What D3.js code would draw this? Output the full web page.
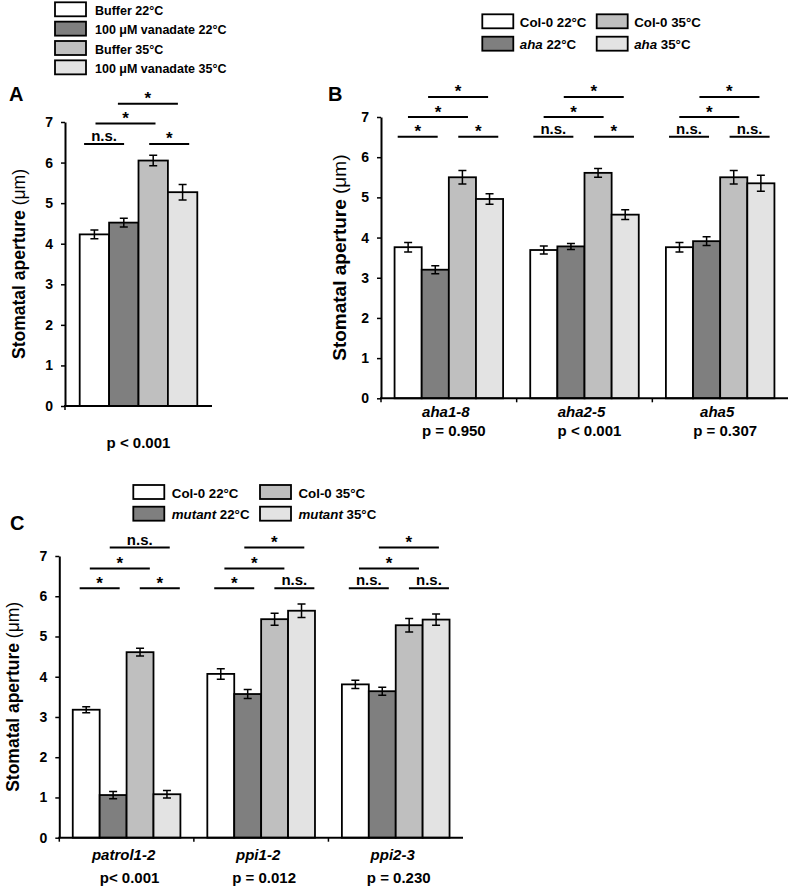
<!DOCTYPE html>
<html><head><meta charset="utf-8">
<script src="https://cdn.jsdelivr.net/npm/d3@7"></script>
<style>
body{margin:0;background:#fff}
svg{display:block;background:#fff}
text{font-family:"Liberation Sans",Arial,Helvetica,sans-serif;font-weight:bold;fill:#000}
</style>
</head><body>
<svg id="chart" width="789" height="886"></svg>
<script>
// ================= DATA =================
const yTicks = [0, 1, 2, 3, 4, 5, 6, 7];
const yTitleText = "Stomatal aperture ";
const yTitleUnit = "(μm)";
const seriesColors = ["#ffffff", "#7f7f7f", "#bfbfbf", "#e3e3e3"];

// Panel A
const groupsA = [""];
const legendA = ["Buffer 22°C", "100 μM vanadate 22°C", "Buffer 35°C", "100 μM vanadate 35°C"];
const bufferA22 = [4.23], bufferA22Err = [0.11];
const vanadateA22 = [4.52], vanadateA22Err = [0.11];
const bufferA35 = [6.05], bufferA35Err = [0.13];
const vanadateA35 = [5.27], vanadateA35Err = [0.19];
const pValuesA = ["p < 0.001"];
const sigA = [["n.s.", "*", "*", "*"]];          // pairs: 0-1, 2-3, 0-2, 1-3
const sigLevelsA = [6.46, 6.96, 7.45];

// Panel B
const groupsB = ["aha1-8", "aha2-5", "aha5"];
const legendB = [["Col-0", " 22°C", false], ["aha", " 22°C", true], ["Col-0", " 35°C", false], ["aha", " 35°C", true]];
const col0B22 = [3.76, 3.69, 3.76], col0B22Err = [0.12, 0.10, 0.12];
const ahaB22 = [3.20, 3.78, 3.91], ahaB22Err = [0.10, 0.075, 0.11];
const col0B35 = [5.50, 5.61, 5.50], col0B35Err = [0.17, 0.11, 0.17];
const ahaB35 = [4.96, 4.57, 5.35], ahaB35Err = [0.13, 0.12, 0.20];
const pValuesB = ["p = 0.950", "p < 0.001", "p = 0.307"];
const sigB = [["*", "*", "*", "*"], ["n.s.", "*", "*", "*"], ["n.s.", "n.s.", "*", "*"]];
const sigLevelsB = [6.51, 7.0, 7.5];

// Panel C
const groupsC = ["patrol1-2", "ppi1-2", "ppi2-3"];
const legendC = [["Col-0", " 22°C", false], ["mutant", " 22°C", true], ["Col-0", " 35°C", false], ["mutant", " 35°C", true]];
const col0C22 = [3.18, 4.07, 3.81], col0C22Err = [0.075, 0.13, 0.10];
const mutC22 = [1.06, 3.57, 3.64], mutC22Err = [0.09, 0.11, 0.10];
const col0C35 = [4.61, 5.43, 5.28], col0C35Err = [0.095, 0.15, 0.17];
const mutC35 = [1.08, 5.64, 5.42], mutC35Err = [0.095, 0.17, 0.14];
const pValuesC = ["p< 0.001", "p = 0.012", "p = 0.230"];
const sigC = [["*", "*", "*", "n.s."], ["*", "n.s.", "*", "*"], ["n.s.", "n.s.", "*", "*"]];
const sigLevelsC = [6.2, 6.69, 7.21];

// ================= DRAWING =================
const svg = d3.select("#chart");
svg.append("rect").attr("width", 789).attr("height", 886).attr("fill", "#fff");

const pairs = [[0, 1], [2, 3], [0, 2], [1, 3]];
const pairRows = [0, 0, 1, 2];
const pairShift = [-4, 2.3, 2.7, -4.3];

function drawPanel(o) {
  const g = svg.append("g");
  const nG = o.groups.length;
  const x0 = d3.scaleBand().domain(d3.range(nG)).range([o.left, o.right]).paddingInner(0).paddingOuter(0);
  const x1 = d3.scaleBand().domain(d3.range(4)).range([0, x0.bandwidth()]).paddingInner(0).paddingOuter(0.5);
  const y = d3.scaleLinear().domain([0, 7]).range([o.bottom, o.top]);
  const bw = x1.bandwidth();

  const cells = [];
  o.groups.forEach((gn, gi) => o.series.forEach((s, si) => cells.push({gi, si, v: s.vals[gi], e: s.errs[gi]})));

  // bars
  g.selectAll("rect.bar").data(cells).join("rect").attr("class", "bar")
    .attr("x", d => x0(d.gi) + x1(d.si))
    .attr("y", d => y(d.v))
    .attr("width", bw)
    .attr("height", d => y(0) - y(d.v))
    .attr("fill", d => seriesColors[d.si])
    .attr("stroke", "#000").attr("stroke-width", 1.8);

  // error bars
  g.selectAll("path.err").data(cells).join("path").attr("class", "err")
    .attr("d", d => {
      const cx = x0(d.gi) + x1(d.si) + bw / 2;
      const t = y(d.v + d.e), b = y(d.v - d.e);
      return `M${cx},${t}V${b}M${cx - 4},${t}H${cx + 4}M${cx - 4},${b}H${cx + 4}`;
    })
    .attr("stroke", "#000").attr("stroke-width", 1.5).attr("fill", "none");

  // y axis
  const ya = g.append("g").attr("transform", `translate(${o.left},0)`)
    .call(d3.axisLeft(y).tickValues(yTicks).tickSize(4).tickSizeOuter(0).tickPadding(8).tickFormat(d3.format("d")))
    .attr("font-size", 14);
  ya.select(".domain").attr("stroke-width", 2);
  ya.selectAll(".tick line").attr("stroke-width", 1.5);

  // x axis
  g.append("line").attr("x1", o.left - 1).attr("x2", o.right).attr("y1", y(0)).attr("y2", y(0))
    .attr("stroke", "#000").attr("stroke-width", 2);
  g.selectAll("line.xt").data(d3.range(nG)).join("line").attr("class", "xt")
    .attr("x1", d => x0(d)).attr("x2", d => x0(d))
    .attr("y1", y(0)).attr("y2", y(0) + 4)
    .attr("stroke", "#000").attr("stroke-width", 1.5);

  // category labels
  g.selectAll("text.cat").data(o.groups).join("text").attr("class", "cat")
    .attr("x", (d, i) => x0(i) + x0.bandwidth() / 2 + o.catDx)
    .attr("y", y(0) + o.catDy)
    .attr("text-anchor", "middle").attr("font-size", 15).attr("font-style", "italic")
    .text(d => d);
  g.selectAll("text.pv").data(o.pvals).join("text").attr("class", "pv")
    .attr("x", (d, i) => x0(i) + x0.bandwidth() / 2 + o.pDx)
    .attr("y", y(0) + o.pDy)
    .attr("text-anchor", "middle").attr("font-size", 15)
    .text(d => d);

  // significance
  const sigs = [];
  o.sig.forEach((row, gi) => row.forEach((lab, k) => {
    const [i, j] = pairs[k];
    const ci = x0(gi) + x1(i) + bw / 2, cj = x0(gi) + x1(j) + bw / 2;
    const mid = (ci + cj) / 2 + pairShift[k] + o.sigShift;
    const w = (j - i === 1) ? 40 : 60;
    sigs.push({lab, mid, w, ly: y(o.sigLevels[pairRows[k]])});
  }));
  g.selectAll("line.sig").data(sigs).join("line").attr("class", "sig")
    .attr("x1", d => d.mid - d.w / 2).attr("x2", d => d.mid + d.w / 2)
    .attr("y1", d => d.ly).attr("y2", d => d.ly)
    .attr("stroke", "#000").attr("stroke-width", 2);
  g.selectAll("text.sig").data(sigs).join("text").attr("class", "sig")
    .attr("x", d => d.mid)
    .attr("y", d => d.lab === "*" ? d.ly + 0.5 : d.ly - 3)
    .attr("text-anchor", "middle")
    .attr("font-size", d => d.lab === "*" ? 17 : 15)
    .text(d => d.lab);

  // y title
  const tt = g.append("text")
    .attr("transform", `translate(${o.titleX},${(o.top + o.bottom) / 2}) rotate(-90)`)
    .attr("text-anchor", "middle").attr("font-size", o.titleSize);
  tt.append("tspan").text(yTitleText);
  tt.append("tspan").attr("font-weight", "normal").text(yTitleUnit);

  // panel letter
  g.append("text").attr("x", o.letterX).attr("y", o.letterY).attr("font-size", 20).text(o.letter);
}

drawPanel({
  groups: groupsA,
  series: [
    {vals: bufferA22, errs: bufferA22Err}, {vals: vanadateA22, errs: vanadateA22Err},
    {vals: bufferA35, errs: bufferA35Err}, {vals: vanadateA35, errs: vanadateA35Err}],
  pvals: pValuesA, sig: sigA, sigLevels: sigLevelsA,
  left: 65, right: 212, top: 122, bottom: 406,
  catDx: 0, catDy: 18, pDx: 0, pDy: 42, sigShift: -1,
  titleX: 25, titleSize: 17.5, letter: "A", letterX: 9, letterY: 101
});
drawPanel({
  groups: groupsB,
  series: [
    {vals: col0B22, errs: col0B22Err}, {vals: ahaB22, errs: ahaB22Err},
    {vals: col0B35, errs: col0B35Err}, {vals: ahaB35, errs: ahaB35Err}],
  pvals: pValuesB, sig: sigB, sigLevels: sigLevelsB,
  left: 381, right: 788, top: 117, bottom: 398.3,
  catDx: -3, catDy: 18.5, pDx: 5, pDy: 38, sigShift: 0,
  titleX: 346, titleSize: 19, letter: "B", letterX: 328, letterY: 101
});
drawPanel({
  groups: groupsC,
  series: [
    {vals: col0C22, errs: col0C22Err}, {vals: mutC22, errs: mutC22Err},
    {vals: col0C35, errs: col0C35Err}, {vals: mutC35, errs: mutC35Err}],
  pvals: pValuesC, sig: sigC, sigLevels: sigLevelsC,
  left: 59.3, right: 463, top: 556, bottom: 837.7,
  catDx: -3, catDy: 22.5, pDx: 3, pDy: 45, sigShift: 4,
  titleX: 19, titleSize: 17.5, letter: "C", letterX: 10, letterY: 530
});

// legends
function legendRow(x, top, si, parts, fontSize, textOff) {
  svg.append("rect").attr("x", x).attr("y", top).attr("width", 31).attr("height", 14)
    .attr("fill", seriesColors[si]).attr("stroke", "#000").attr("stroke-width", 1.8);
  const t = svg.append("text").attr("x", x + textOff).attr("y", top + 12.5).attr("font-size", fontSize);
  parts.forEach(p => { const ts = t.append("tspan").text(p.t); if (p.it) ts.attr("font-style", "italic"); });
}
legendA.forEach((lab, i) => legendRow(55, 2.3 + i * 19.35, i, [{t: lab}], 12.5, 40));
legendB.forEach((l, i) => legendRow([482.3, 596.7][Math.floor(i / 2)], [14.3, 36.7][i % 2], i,
  [{t: l[0], it: l[2]}, {t: l[1]}], 13.3, 37.5));
legendC.forEach((l, i) => legendRow([133.3, 260][Math.floor(i / 2)], [485, 506.7][i % 2], i,
  [{t: l[0], it: l[2]}, {t: l[1]}], 13.3, 38.5));
</script>
</body></html>
